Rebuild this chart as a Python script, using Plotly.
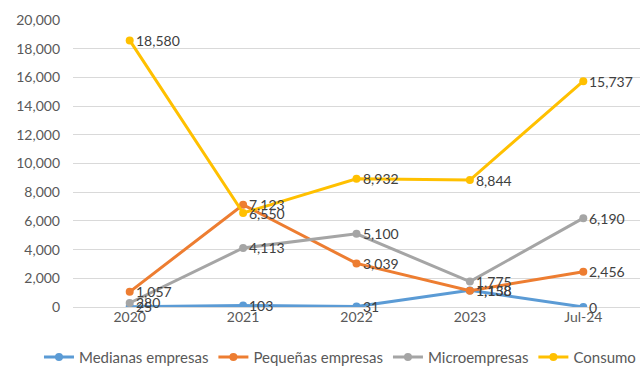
import plotly.graph_objects as go

periods = ["2020", "2021", "2022", "2023", "Jul-24"]
medianas = [25, 103, 31, 1158, 0]
pequenas = [1057, 7123, 3039, 1138, 2456]
micro = [280, 4113, 5100, 1775, 6190]
consumo = [18580, 6550, 8932, 8844, 15737]

series = [
    ("Medianas empresas", medianas, "#5B9BD5"),
    ("Pequeñas empresas", pequenas, "#ED7D31"),
    ("Microempresas", micro, "#A5A5A5"),
    ("Consumo", consumo, "#FFC000"),
]

FONT = "Lato"
TEXT_COLOR = "#595959"

fig = go.Figure()
annotations = []
for name, values, color in series:
    fig.add_trace(go.Scatter(
        x=periods, y=values, name=name, mode="lines+markers",
        line=dict(color=color, width=3),
        marker=dict(color=color, size=8),
    ))
    # value labels to the right of each point (category index positions)
    for i, v in enumerate(values):
        annotations.append(dict(
            x=i, y=v, xref="x", yref="y", text=f"{v:,}",
            showarrow=False, xanchor="left", yanchor="middle", xshift=4,
            font=dict(family=FONT, size=14, color="#404040"),
        ))

fig.update_layout(
    width=641, height=375,
    margin=dict(l=73, r=1, t=20, b=68, autoexpand=False),
    paper_bgcolor="white", plot_bgcolor="white",
    font=dict(family=FONT, size=14, color=TEXT_COLOR),
    showlegend=True,
    # legend sits below the plot area, starting left of it, one row
    legend=dict(
        orientation="h", xref="paper", yref="paper",
        x=-0.06, xanchor="left", y=-0.175, yanchor="middle",
        font=dict(family=FONT, size=15, color=TEXT_COLOR),
        itemwidth=30, tracegroupgap=0,
    ),
    annotations=annotations,
)
fig.update_xaxes(
    type="category", categoryorder="array", categoryarray=periods,
    range=[-0.5, len(periods) - 0.5],
    showgrid=False, showline=False, zeroline=False,
    ticks="", tickfont=dict(family=FONT, size=14, color=TEXT_COLOR),
)
fig.update_yaxes(
    range=[0, 20000], dtick=2000, tickformat=",",
    showgrid=True, gridcolor="#D9D9D9", gridwidth=1,
    zeroline=True, zerolinecolor="#D9D9D9", zerolinewidth=1,
    showline=False, ticks="", ticklabelstandoff=12,
    tickfont=dict(family=FONT, size=14, color=TEXT_COLOR),
)

fig.write_html("out.html")
